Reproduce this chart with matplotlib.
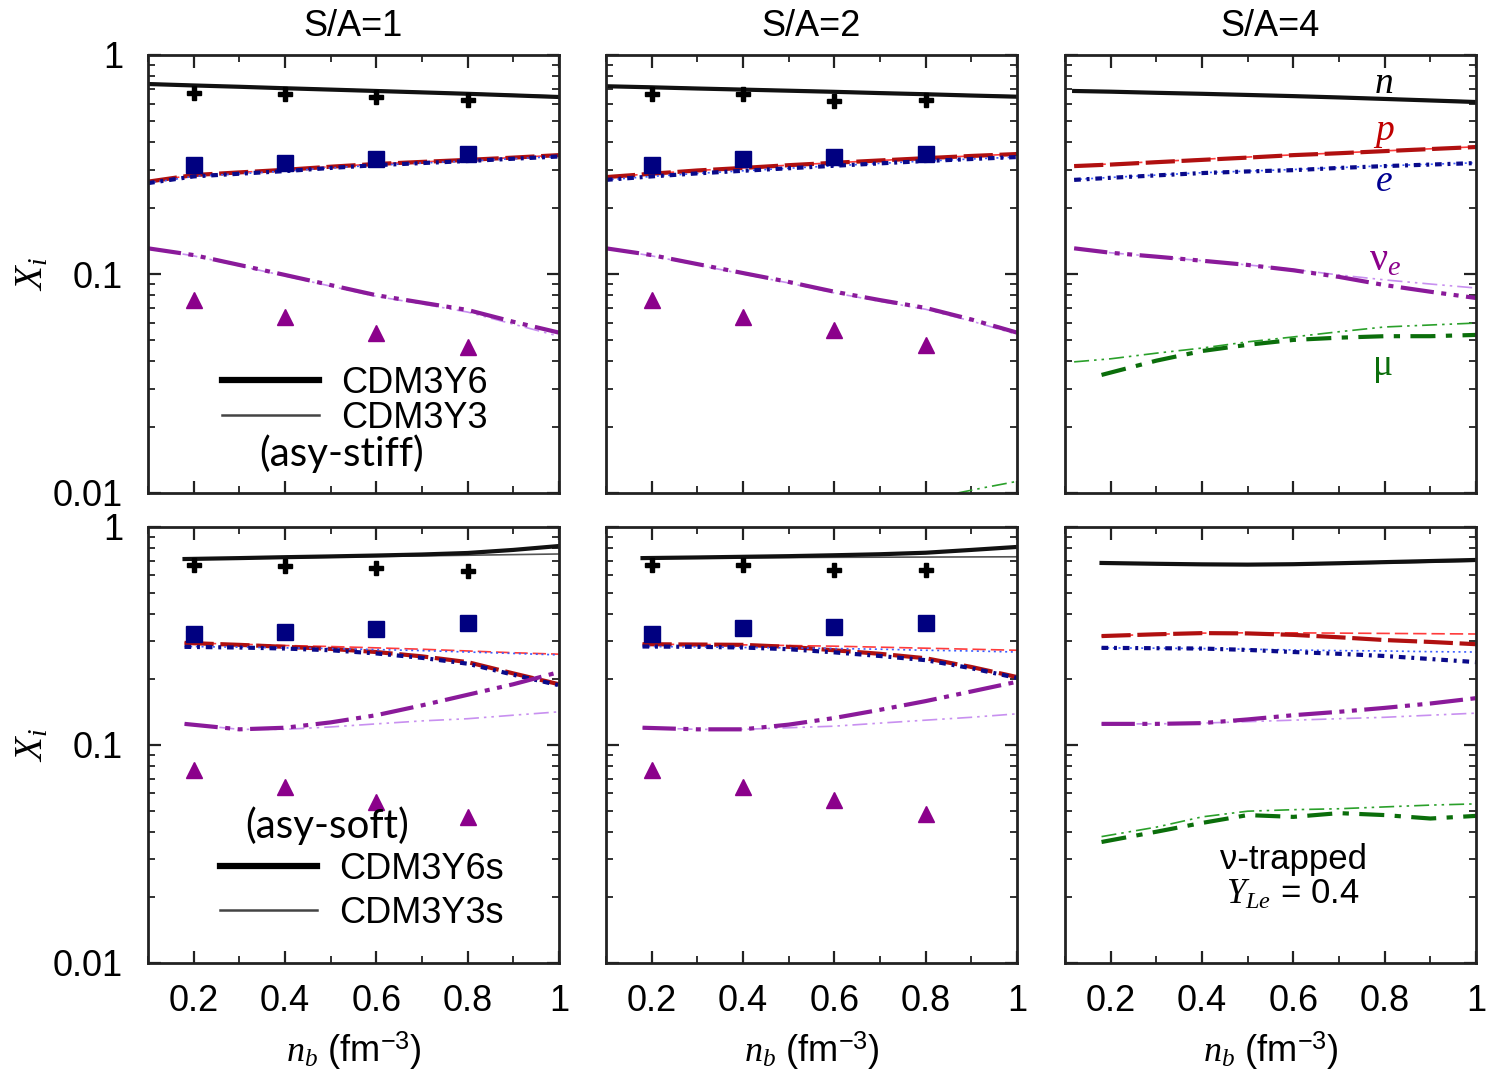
import matplotlib
matplotlib.use("Agg")
import matplotlib.pyplot as plt
from matplotlib.ticker import LogLocator, NullFormatter, FixedLocator
from matplotlib.lines import Line2D

plt.rcParams['font.family'] = ['Liberation Sans', 'DejaVu Sans']
plt.rcParams['mathtext.fontset'] = 'custom'
plt.rcParams['mathtext.rm'] = 'Liberation Sans'
plt.rcParams['mathtext.it'] = 'Liberation Serif:italic'

# ============================================================
# DATA
# ============================================================
titles = ["S/A=1", "S/A=2", "S/A=4"]
x_ticks = [0.2, 0.4, 0.6, 0.8, 1.0]
x_ticklabels = ["0.2", "0.4", "0.6", "0.8", "1"]
y_ticks = [0.01, 0.1, 1]
y_ticklabels = ["0.01", "0.1", "1"]

nb_stiff = [0.1, 0.2, 0.3, 0.4, 0.5, 0.6, 0.7, 0.8, 0.9, 1.0]
nb_s4 = [0.12, 0.2, 0.3, 0.4, 0.5, 0.6, 0.7, 0.8, 0.9, 1.0]
nb_soft = [0.18, 0.3, 0.4, 0.5, 0.6, 0.7, 0.8, 0.9, 1.0]
nb_mu_s4 = [0.18, 0.3, 0.4, 0.5, 0.6, 0.7, 0.8, 0.9, 1.0]
nb_mu_s2 = [0.87, 0.93, 1.0]
nb_data = [0.2, 0.4, 0.6, 0.8]

# --- asy-stiff, S/A=1 ---
s1_n_thick = [0.737, 0.726, 0.716, 0.705, 0.695, 0.685, 0.675, 0.665, 0.654, 0.643]
s1_n_thin = [0.742, 0.730, 0.719, 0.709, 0.699, 0.689, 0.679, 0.669, 0.659, 0.649]
s1_p = [0.264, 0.283, 0.291, 0.299, 0.309, 0.318, 0.325, 0.332, 0.340, 0.349]
s1_e = [0.260, 0.279, 0.287, 0.295, 0.305, 0.314, 0.321, 0.328, 0.336, 0.344]
s1_nu_thick = [0.131, 0.122, 0.110, 0.099, 0.089, 0.080, 0.074, 0.0685, 0.0605, 0.054]
s1_nu_thin = [0.131, 0.121, 0.109, 0.098, 0.088, 0.079, 0.073, 0.067, 0.059, 0.052]
s1_cross = [0.670, 0.665, 0.643, 0.623]
s1_square = [0.315, 0.321, 0.335, 0.353]
s1_tri = [0.076, 0.0636, 0.0538, 0.0464]

# --- asy-stiff, S/A=2 ---
s2_n_thick = [0.720, 0.712, 0.703, 0.695, 0.687, 0.679, 0.670, 0.662, 0.653, 0.645]
s2_n_thin = [0.724, 0.716, 0.707, 0.699, 0.691, 0.683, 0.674, 0.666, 0.657, 0.650]
s2_p = [0.277, 0.287, 0.297, 0.305, 0.314, 0.322, 0.330, 0.338, 0.346, 0.353]
s2_e = [0.269, 0.279, 0.288, 0.296, 0.304, 0.312, 0.320, 0.328, 0.335, 0.342]
s2_nu_thick = [0.131, 0.122, 0.111, 0.101, 0.092, 0.083, 0.076, 0.070, 0.062, 0.054]
s2_nu_thin = [0.131, 0.121, 0.110, 0.100, 0.091, 0.082, 0.075, 0.069, 0.061, 0.053]
s2_mu_thin = [0.0100, 0.0106, 0.0113]
s2_cross = [0.664, 0.664, 0.617, 0.623]
s2_square = [0.315, 0.335, 0.342, 0.353]
s2_tri = [0.076, 0.0636, 0.0557, 0.0476]

# --- asy-stiff, S/A=4 (neutrino trapped) ---
s4_n_thick = [0.685, 0.680, 0.672, 0.665, 0.657, 0.649, 0.640, 0.630, 0.620, 0.610]
s4_n_thin = [0.687, 0.682, 0.674, 0.667, 0.660, 0.652, 0.643, 0.634, 0.624, 0.615]
s4_p_thick = [0.311, 0.316, 0.324, 0.332, 0.340, 0.349, 0.356, 0.364, 0.372, 0.380]
s4_p_thin = [0.313, 0.318, 0.326, 0.334, 0.342, 0.350, 0.357, 0.365, 0.373, 0.381]
s4_e_thick = [0.269, 0.275, 0.282, 0.289, 0.294, 0.298, 0.305, 0.311, 0.316, 0.321]
s4_e_thin = [0.270, 0.276, 0.283, 0.290, 0.295, 0.300, 0.306, 0.312, 0.317, 0.322]
s4_nu_thick = [0.131, 0.125, 0.120, 0.115, 0.110, 0.104, 0.097, 0.089, 0.083, 0.0777]
s4_nu_thin = [0.131, 0.125, 0.120, 0.115, 0.110, 0.105, 0.099, 0.094, 0.090, 0.0863]
s4_mu_thick = [0.0346, 0.0402, 0.0445, 0.0475, 0.0500, 0.0512, 0.0520, 0.0520, 0.0527]
s4_mu_thin = [0.0397, 0.0410, 0.0435, 0.0459, 0.0490, 0.0516, 0.0545, 0.0573, 0.0585, 0.0597]

# --- asy-soft, S/A=1 ---
w1_n_thick = [0.713, 0.720, 0.727, 0.733, 0.740, 0.748, 0.760, 0.785, 0.818]
w1_n_thin = [0.713, 0.718, 0.722, 0.727, 0.732, 0.737, 0.742, 0.747, 0.752]
w1_p_thick = [0.294, 0.288, 0.282, 0.276, 0.267, 0.255, 0.240, 0.213, 0.190]
w1_p_thin = [0.294, 0.290, 0.286, 0.283, 0.279, 0.275, 0.270, 0.265, 0.261]
w1_e_thick = [0.282, 0.280, 0.277, 0.272, 0.263, 0.251, 0.236, 0.210, 0.188]
w1_e_thin = [0.283, 0.281, 0.279, 0.277, 0.274, 0.271, 0.267, 0.263, 0.259]
w1_nu_thick = [0.125, 0.118, 0.120, 0.127, 0.137, 0.152, 0.170, 0.190, 0.216]
w1_nu_thin = [0.125, 0.118, 0.118, 0.121, 0.125, 0.129, 0.132, 0.137, 0.142]
w1_cross = [0.670, 0.662, 0.649, 0.628]
w1_square = [0.323, 0.330, 0.340, 0.363]
w1_tri = [0.0768, 0.0641, 0.0548, 0.0468]

# --- asy-soft, S/A=2 ---
w2_n_thick = [0.720, 0.725, 0.730, 0.735, 0.742, 0.750, 0.762, 0.785, 0.810]
w2_n_thin = [0.720, 0.721, 0.722, 0.724, 0.726, 0.727, 0.728, 0.729, 0.730]
w2_p_thick = [0.290, 0.289, 0.288, 0.282, 0.272, 0.262, 0.250, 0.228, 0.205]
w2_p_thin = [0.290, 0.289, 0.288, 0.286, 0.284, 0.281, 0.278, 0.275, 0.272]
w2_e_thick = [0.283, 0.282, 0.280, 0.275, 0.266, 0.256, 0.245, 0.225, 0.203]
w2_e_thin = [0.283, 0.282, 0.280, 0.279, 0.277, 0.275, 0.272, 0.270, 0.267]
w2_nu_thick = [0.120, 0.118, 0.118, 0.124, 0.133, 0.145, 0.159, 0.176, 0.195]
w2_nu_thin = [0.120, 0.118, 0.118, 0.120, 0.122, 0.126, 0.130, 0.134, 0.139]
w2_cross = [0.670, 0.670, 0.635, 0.635]
w2_square = [0.323, 0.344, 0.348, 0.363]
w2_tri = [0.0768, 0.0641, 0.0559, 0.0483]

# --- asy-soft, S/A=4 ---
w4_n_thick = [0.684, 0.678, 0.674, 0.672, 0.675, 0.682, 0.690, 0.698, 0.706]
w4_n_thin = [0.684, 0.677, 0.672, 0.670, 0.672, 0.677, 0.683, 0.690, 0.697]
w4_p_thick = [0.316, 0.322, 0.326, 0.325, 0.320, 0.312, 0.303, 0.297, 0.290]
w4_p_thin = [0.316, 0.322, 0.326, 0.327, 0.327, 0.326, 0.325, 0.324, 0.323]
w4_e_thick = [0.279, 0.278, 0.277, 0.273, 0.267, 0.262, 0.256, 0.248, 0.240]
w4_e_thin = [0.279, 0.278, 0.277, 0.275, 0.273, 0.271, 0.270, 0.268, 0.267]
w4_nu_thick = [0.125, 0.125, 0.126, 0.131, 0.137, 0.142, 0.148, 0.155, 0.164]
w4_nu_thin = [0.125, 0.125, 0.126, 0.128, 0.130, 0.132, 0.134, 0.137, 0.140]
w4_mu_thick = [0.0359, 0.0400, 0.0439, 0.0477, 0.0468, 0.0487, 0.0477, 0.0460, 0.0473]
w4_mu_thin = [0.0380, 0.0420, 0.0468, 0.0497, 0.0505, 0.0510, 0.0520, 0.0530, 0.0537]

# ============================================================
# STYLES
# ============================================================
C_N = "#111111"
C_P_THICK, C_P_THIN = "#b01010", "#ff3b3b"
C_E_THICK, C_E_THIN = "#0a0a8a", "#3a5cff"
C_NU_THICK, C_NU_THIN = "#8a1a9a", "#c890f0"
C_MU_THICK, C_MU_THIN = "#0b6e0b", "#2aa02a"
LW_THICK, LW_THIN = 3.0, 1.2

sty = {
    "n_thick": dict(color=C_N, lw=LW_THICK, ls="-"),
    "n_thin": dict(color="#555555", lw=LW_THIN, ls="-"),
    "p_thick": dict(color=C_P_THICK, lw=LW_THICK, dashes=(7, 1.6)),
    "p_thin": dict(color=C_P_THIN, lw=LW_THIN, dashes=(8, 3)),
    "e_thick": dict(color=C_E_THICK, lw=LW_THICK, dashes=(1.6, 1.4, 0.7, 1.4)),
    "e_thin": dict(color=C_E_THIN, lw=LW_THIN, dashes=(1.2, 2.2)),
    "nu_thick": dict(color=C_NU_THICK, lw=LW_THICK, dashes=(8, 1.8, 1.2, 1.8, 1.2, 1.8)),
    "nu_thin": dict(color=C_NU_THIN, lw=LW_THIN, dashes=(9, 3, 1.5, 3, 1.5, 3)),
    "mu_thick": dict(color=C_MU_THICK, lw=LW_THICK, dashes=(6, 2.5, 1.5, 2.5)),
    "mu_thin": dict(color=C_MU_THIN, lw=LW_THIN, dashes=(9, 3, 1.5, 3, 1.5, 3)),
}

FS = 26

fig = plt.figure(figsize=(14.9, 10.77), dpi=100)
lefts = [148 / 1490, 606 / 1490, 1065 / 1490]
width = 411 / 1490
rows = [(1 - 493 / 1077, 438 / 1077), (1 - 963 / 1077, 436 / 1077)]

axes = [[None] * 3 for _ in range(2)]
for r, (b, h) in enumerate(rows):
    for c, l in enumerate(lefts):
        axes[r][c] = fig.add_axes([l, b, width, h])


def style_axis(ax, row, col):
    ax.set_yscale("log")
    ax.set_xlim(0.1, 1.0)
    ax.set_ylim(0.01, 1)
    ax.set_xticks(x_ticks)
    ax.xaxis.set_minor_locator(FixedLocator([0.1, 0.3, 0.5, 0.7, 0.9]))
    ax.set_yticks(y_ticks)
    ax.yaxis.set_minor_locator(LogLocator(base=10, subs=range(2, 10)))
    ax.yaxis.set_minor_formatter(NullFormatter())
    ax.tick_params(which="both", direction="in", top=True, right=True,
                   labelsize=FS, color="#222222")
    ax.tick_params(which="major", length=9, width=1.6)
    ax.tick_params(which="minor", length=5, width=1.3)
    ax.tick_params(axis="y", pad=18)
    ax.tick_params(axis="x", pad=15)
    if row == 1:
        ax.set_xticklabels(x_ticklabels)
        ax.set_xlabel(r"$n_b$ (fm$^{-3}$)", fontsize=FS, labelpad=8)
    else:
        ax.set_xticklabels([])
    if col == 0:
        ax.set_yticklabels(y_ticklabels)
        ax.set_ylabel(r"$X_i$", fontsize=FS + 2, labelpad=2)
    else:
        ax.set_yticklabels([])
    for sp in ax.spines.values():
        sp.set_linewidth(2.0)
        sp.set_color("#222222")


def draw_set(ax, nb, n_thick, n_thin, p_thick, p_thin, e_thick, e_thin,
             nu_thick, nu_thin):
    ax.plot(nb, n_thin, **sty["n_thin"])
    ax.plot(nb, n_thick, **sty["n_thick"])
    ax.plot(nb, p_thin, **sty["p_thin"])
    ax.plot(nb, p_thick, **sty["p_thick"])
    ax.plot(nb, e_thin, **sty["e_thin"])
    ax.plot(nb, e_thick, **sty["e_thick"])
    ax.plot(nb, nu_thin, **sty["nu_thin"])
    ax.plot(nb, nu_thick, **sty["nu_thick"])


def draw_points(ax, cross, square, tri):
    ax.plot(nb_data, cross, ls="none", marker="P", ms=10, color="black",
            mec="black")
    ax.plot(nb_data, square, ls="none", marker="s", ms=12, color="#000080")
    ax.plot(nb_data, tri, ls="none", marker="^", ms=12, color="#8b008b")


# ---------------- top row (asy-stiff) ----------------
ax = axes[0][0]
draw_set(ax, nb_stiff, s1_n_thick, s1_n_thin, s1_p, s1_p, s1_e, s1_e,
         s1_nu_thick, s1_nu_thin)
draw_points(ax, s1_cross, s1_square, s1_tri)

ax = axes[0][1]
draw_set(ax, nb_stiff, s2_n_thick, s2_n_thin, s2_p, s2_p, s2_e, s2_e,
         s2_nu_thick, s2_nu_thin)
ax.plot(nb_mu_s2, s2_mu_thin, **sty["mu_thin"])
draw_points(ax, s2_cross, s2_square, s2_tri)

ax = axes[0][2]
draw_set(ax, nb_s4, s4_n_thick, s4_n_thin, s4_p_thick, s4_p_thin,
         s4_e_thick, s4_e_thin, s4_nu_thick, s4_nu_thin)
ax.plot(nb_s4, s4_mu_thin, **sty["mu_thin"])
ax.plot(nb_mu_s4, s4_mu_thick, **sty["mu_thick"])

# ---------------- bottom row (asy-soft) ----------------
ax = axes[1][0]
draw_set(ax, nb_soft, w1_n_thick, w1_n_thin, w1_p_thick, w1_p_thin,
         w1_e_thick, w1_e_thin, w1_nu_thick, w1_nu_thin)
draw_points(ax, w1_cross, w1_square, w1_tri)

ax = axes[1][1]
draw_set(ax, nb_soft, w2_n_thick, w2_n_thin, w2_p_thick, w2_p_thin,
         w2_e_thick, w2_e_thin, w2_nu_thick, w2_nu_thin)
draw_points(ax, w2_cross, w2_square, w2_tri)

ax = axes[1][2]
draw_set(ax, nb_soft, w4_n_thick, w4_n_thin, w4_p_thick, w4_p_thin,
         w4_e_thick, w4_e_thin, w4_nu_thick, w4_nu_thin)
ax.plot(nb_soft, w4_mu_thin, **sty["mu_thin"])
ax.plot(nb_soft, w4_mu_thick, **sty["mu_thick"])

for r in range(2):
    for c in range(3):
        style_axis(axes[r][c], r, c)

for c in range(3):
    axes[0][c].set_title(titles[c], fontsize=FS, pad=14)

# ---------------- legends and annotations ----------------
h_thick = Line2D([], [], color="black", lw=4.5)
h_thin = Line2D([], [], color="#444444", lw=1.8)

leg = axes[0][0].legend([h_thick, h_thin], ["CDM3Y6", "CDM3Y3"],
                        loc="upper left", bbox_to_anchor=(0.18, 0.29),
                        frameon=False, fontsize=FS, handlelength=2.7,
                        handletextpad=0.6, labelspacing=0.0,
                        borderpad=0.0, borderaxespad=0.0)
axes[0][0].text(0.47, 0.09, "(asy-stiff)", transform=axes[0][0].transAxes,
                fontsize=29, family="Lato", ha="center", va="center")

leg2 = axes[1][0].legend([h_thick, h_thin], ["CDM3Y6s", "CDM3Y3s"],
                         loc="upper left", bbox_to_anchor=(0.175, 0.255),
                         frameon=False, fontsize=FS, handlelength=2.7,
                         handletextpad=0.6, labelspacing=0.25,
                         borderpad=0.0, borderaxespad=0.0)
axes[1][0].text(0.435, 0.315, "(asy-soft)", transform=axes[1][0].transAxes,
                fontsize=29, family="Lato", ha="center", va="center")

ax = axes[0][2]
ax.text(0.775, 0.935, r"$n$", transform=ax.transAxes, fontsize=FS + 1,
        color="black", ha="center", va="center")
ax.text(0.775, 0.825, r"$p$", transform=ax.transAxes, fontsize=FS + 1,
        color="#c00000", ha="center", va="center")
ax.text(0.775, 0.712, r"$e$", transform=ax.transAxes, fontsize=FS + 1,
        color="#000090", ha="center", va="center")
ax.text(0.78, 0.53, "ν" + r"$_e$", transform=ax.transAxes, fontsize=FS + 3,
        family=["Liberation Serif", "DejaVu Serif"], color="#8b008b",
        ha="center", va="center")
ax.text(0.775, 0.29, "μ", transform=ax.transAxes, fontsize=FS + 1,
        family=["Liberation Serif", "DejaVu Serif"], color="#0b6e0b",
        ha="center", va="center")

ax = axes[1][2]
ax.text(0.555, 0.238, "ν-trapped", transform=ax.transAxes, fontsize=FS - 1,
        ha="center", va="center")
ax.text(0.555, 0.158, r"$Y_{Le}$ = 0.4", transform=ax.transAxes,
        fontsize=FS - 1, ha="center", va="center")

fig.savefig("out.png", dpi=100)
